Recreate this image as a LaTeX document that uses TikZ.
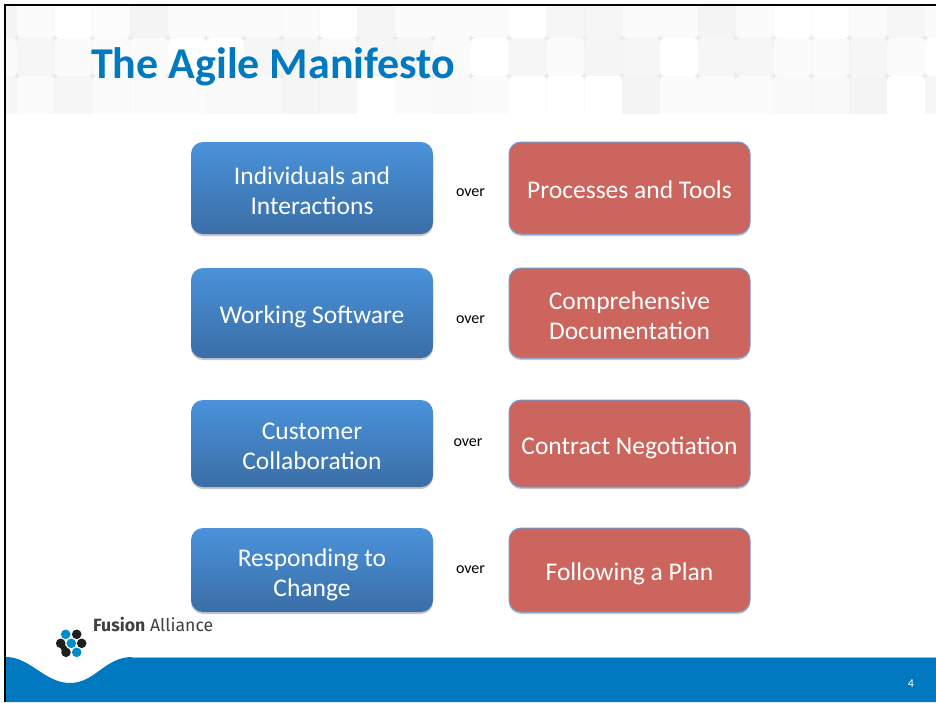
\documentclass[tikz,border=0pt]{standalone}
\usepackage{fontspec}
\setmainfont{Carlito}
\newfontfamily\logofont{Fira Sans}
\usetikzlibrary{%
  shadows%
}
\definecolor{fusionblue}{HTML}{0079C1}
\definecolor{boxtop}{HTML}{4A92DA}
\definecolor{boxbottom}{HTML}{3A6EA6}
\definecolor{boxred}{HTML}{CC655E}
\definecolor{boxedge}{HTML}{6F9BD1}
\tikzset{
  boxshadow/.style={drop shadow={shadow xshift=0pt,shadow yshift=-2pt,opacity=.22,fill=black}},
  boxtext/.style={align=center,text=white,inner sep=0,font=\fontsize{25.5}{30}\selectfont},
  oneline/.style={text height=29,text depth=8},
  twolines/.style={text height=56,text depth=4},
  agreed/.style={rounded corners=12,minimum width=242,boxshadow,boxtext,
    top color=boxtop,bottom color=boxbottom},
  versus/.style={rounded corners=12,minimum width=241,boxshadow,boxtext,
    fill=boxred,draw=boxedge,line width=1},
  overlabel/.style={font=\fontsize{16}{18}\selectfont,inner sep=0}
}
\begin{document}
\begin{tikzpicture}[x=1pt,y=-1pt]
\useasboundingbox (0,0) rectangle (936,702);
\fill[white] (0,0) rectangle (936,702);

% tile band
\begin{scope}
\clip (6,6) rectangle (936,113);
\fill[black!8] (0,0) rectangle (936,113);
\foreach \rowtop/\rowbot/\shades in {
  -6/38/{4.5,1.5,0,1,4.5,1.5,1.5,1.5,1.5,0,4,1.5,1.5,1.5,0,3.5,3.5,1.5,1.5,4.5,1.5,0,0,1.5,3.5,1.5},
  38/76/{1.5,3.5,1.5,1.5,1.5,0,0,3.5,3.5,1.5,4,3.5,1.5,0,3.5,1.5,4,3.5,0,3.5,3.5,1.5,1.5,3.5,1.5,0},
  76/125/{3.5,1.5,3.5,1.5,1.5,1.5,2.5,2.5,4,3.5,0,1.5,2.5,1.5,0,0,0,4.5,1.5,1.5,1.5,2.5,2.5,4.5,0,3.5}}
{
  \foreach \shade [count=\col from 0] in \shades {
    \pgfmathsetmacro\tilex{-21+37.84*\col}
    \fill[black!\shade,rounded corners=4] (\tilex,\rowtop) rectangle ++(37.84,\rowbot-\rowtop);
  }
}
\end{scope}

% footer
\fill[fusionblue] (6,657) .. controls (30,657) and (45,683) .. (70,683)
  .. controls (95,683) and (105,657) .. (132,657) -- (936,657) -- (936,702) -- (6,702) -- cycle;
\draw[fusionblue!45!white,line width=.7] (132,657) -- (936,657);

% frame
\draw[black,line width=2] (5,702) -- (5,5) -- (936,5);

\node[anchor=base west,inner sep=0,text=fusionblue,font=\fontsize{44}{50}\selectfont\bfseries] (title) at (91,78) {The Agile Manifesto};

\node[agreed,twolines,minimum height=92] (individuals) at (312,188) {Individuals and\\Interactions};
\node[overlabel] (over1) at (470.5,192.5) {over};
\node[versus,oneline,minimum height=92] (processes) at (629.5,188) {Processes and Tools};

\node[agreed,oneline,minimum height=90] (software) at (312,313) {Working Software};
\node[overlabel] (over2) at (470.5,319.5) {over};
\node[versus,twolines,minimum height=90] (documentation) at (629.5,313) {Comprehensive\\Documentation};

\node[agreed,twolines,minimum height=87] (customer) at (312,443.5) {Customer\\Collaboration};
\node[overlabel] (over3) at (468,442.5) {over};
\node[versus,oneline,minimum height=87] (contract) at (629.5,443.5) {Contract Negotiation};

\node[agreed,twolines,minimum height=84] (responding) at (312,570) {Responding to\\Change};
\node[overlabel] (over4) at (470.5,569.5) {over};
\node[versus,oneline,minimum height=84] (plan) at (629.5,570) {Following a Plan};

% logo
\foreach \dotx/\doty in {76.7/634.3,60.7/643.3,81.7/643.3,66/652.3}
  \fill[black!88] (\dotx,\doty) circle (4.8);
\fill[black!88] (58.5,644) -- (62,641) -- (69,650) -- (64,655) -- cycle;
\foreach \dotx/\doty in {65.7/634.3,71.3/643.3,76.7/652.3}
  \fill[fusionblue!85!cyan] (\dotx,\doty) circle (4.8);
\node[anchor=base west,inner sep=0,text=black!75,font=\fontsize{17.7}{20}\logofont] (fusion) at (93,631) {\textbf{Fusion} Alliance};

\node[text=white,inner sep=0,font=\fontsize{12}{14}\selectfont] (pagenum) at (911,684) {4};
\end{tikzpicture}
\end{document}
